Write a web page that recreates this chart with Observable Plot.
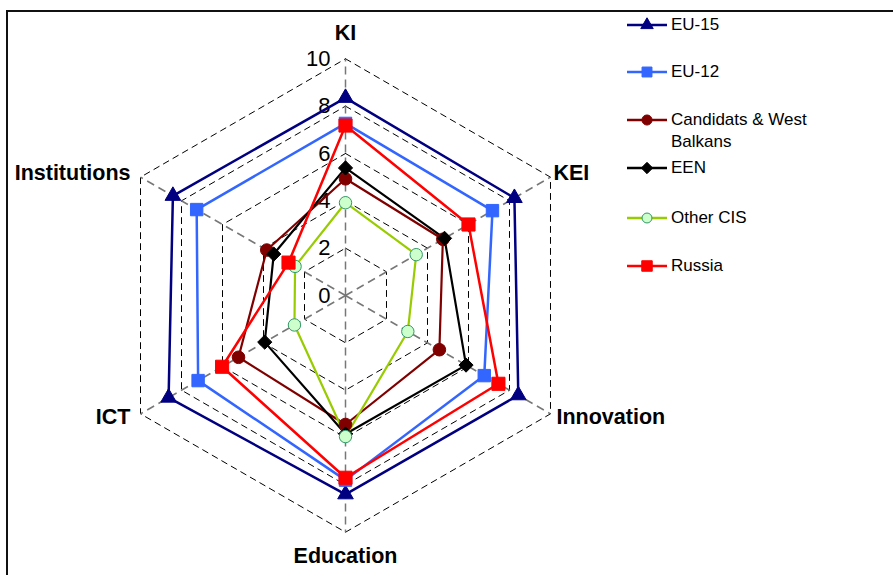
<!DOCTYPE html>
<html>
<head>
<meta charset="utf-8">
<script src="https://cdn.jsdelivr.net/npm/d3@7"></script>
<script src="https://cdn.jsdelivr.net/npm/@observablehq/plot@0.6"></script>
<style>
  html, body { margin: 0; padding: 0; background: #fff; }
  #wrap { position: relative; width: 893px; height: 575px; overflow: hidden; font-family: "Liberation Sans", Arial, sans-serif; }
  #frame { position: absolute; left: 6px; top: 10px; width: 900px; height: 600px; border-top: 2px solid #111; border-left: 2px solid #111; pointer-events: none; }
  #legend { position: absolute; left: 627px; top: 0; font-size: 17px; color: #000; }
  .item { position: absolute; left: 0; white-space: nowrap; line-height: 22px; }
  .item svg { position: absolute; left: 0; top: 0; }
  .item span { position: absolute; left: 44px; top: -11px; }
</style>
</head>
<body>
<div id="wrap"><div id="chart"></div><div id="frame"></div><div id="legend"></div></div>
<script>
const axes = ["KI", "KEI", "Innovation", "Education", "ICT", "Institutions"];
const axisAngles = [90, 30, -30, -90, -150, 150];
const ticks = [0, 2, 4, 6, 8, 10];
const gridLevels = [2, 4, 6, 8, 10];
const seriesNames = ["EU-15", "EU-12", "Candidats & West Balkans", "EEN", "Other CIS", "Russia"];
const eu15 = [8.35, 8.24, 8.43, 8.4, 8.63, 8.42];
const eu12 = [7.27, 7.17, 6.77, 7.8, 7.19, 7.26];
const candidats = [4.93, 4.75, 4.58, 5.45, 5.22, 3.84];
const een = [5.39, 4.83, 5.88, 5.85, 3.94, 3.5];
const otherCIS = [3.92, 3.45, 3.04, 5.96, 2.49, 2.46];
const russia = [7.18, 6.0, 7.46, 7.7, 6.02, 2.78];

const seriesValues = [eu15, eu12, candidats, een, otherCIS, russia];
const styles = [
  {line: "#000080", width: 2.5, symbol: "triangle", r: 5.8, fill: "#000080", stroke: "#000080"},
  {line: "#3366FF", width: 2.5, symbol: "square", r: 7.0, fill: "#3366FF", stroke: "#3366FF"},
  {line: "#800000", width: 2.2, symbol: "circle", r: 6.3, fill: "#800000", stroke: "#800000"},
  {line: "#000000", width: 2.2, symbol: "diamond2", r: 6.4, fill: "#000000", stroke: "#000000"},
  {line: "#99CC00", width: 2.2, symbol: "circle", r: 6.2, fill: "#CCFFCC", stroke: "#339966"},
  {line: "#FF0000", width: 2.5, symbol: "square", r: 7.4, fill: "#FF0000", stroke: "#FF0000"}
];

const rad = d => d * Math.PI / 180;
const pt = (v, i) => ({x: v * Math.cos(rad(axisAngles[i])), y: v * Math.sin(rad(axisAngles[i]))});
const ring = (vals) => { const p = vals.map((v, i) => ({...pt(v, i), axis: axes[i]})); return [...p, p[0]]; };

const U = 23.67, cx = 345, cy = 295, W = 893, H = 575;

const marks = [];
// grid hexagons
for (const L of gridLevels) {
  marks.push(Plot.line(ring(axes.map(() => L)), {x: "x", y: "y", stroke: "#000", strokeWidth: 1, strokeDasharray: "6,5"}));
}
// spokes
const spokes = axes.map((a, i) => { const p = pt(10, i); return {x1: 0, y1: 0, x2: p.x, y2: p.y}; });
marks.push(Plot.link(spokes, {x1: "x1", y1: "y1", x2: "x2", y2: "y2", stroke: "#777", strokeWidth: 1.5, strokeDasharray: "8,5"}));
// tick labels
marks.push(Plot.text(ticks, {x: 0, y: d => d, text: d => String(d), textAnchor: "end", dx: -15, fontSize: 22, fill: "#000"}));
// series
seriesValues.forEach((vals, s) => {
  const st = styles[s];
  marks.push(Plot.line(ring(vals), {x: "x", y: "y", stroke: st.line, strokeWidth: st.width}));
});
seriesValues.forEach((vals, s) => {
  const st = styles[s];
  const data = vals.map((v, i) => pt(v, i));
  marks.push(Plot.dot(data, {x: "x", y: "y", symbol: st.symbol, r: st.r, fill: st.fill, stroke: st.stroke, strokeWidth: 1}));
});
// axis labels
const labelData = axes.map((a, i) => ({...pt(10, i), name: a, ang: axisAngles[i]}));
const lab = {fontSize: 21.5, fontWeight: "bold", fill: "#000", text: "name", x: "x", y: "y"};
marks.push(Plot.text(labelData.filter(d => d.ang === 90), {...lab, textAnchor: "middle", dy: -26}));
marks.push(Plot.text(labelData.filter(d => d.ang === -90), {...lab, textAnchor: "middle", dy: 24}));
marks.push(Plot.text(labelData.filter(d => d.ang === 30), {...lab, textAnchor: "start", dx: 3, dy: -4}));
marks.push(Plot.text(labelData.filter(d => d.ang === -30), {...lab, textAnchor: "start", dx: 6, dy: 3}));
marks.push(Plot.text(labelData.filter(d => d.ang === -150), {...lab, textAnchor: "end", dx: -10, dy: 3}));
marks.push(Plot.text(labelData.filter(d => d.ang === 150), {...lab, textAnchor: "end", dx: -10, dy: -4}));

const chart = Plot.plot({
  width: W, height: H,
  marginTop: 0, marginRight: 0, marginBottom: 0, marginLeft: 0,
  style: {background: "transparent", fontFamily: "'Liberation Sans', Arial, sans-serif", overflow: "visible"},
  x: {domain: [-cx / U, (W - cx) / U], range: [0, W], axis: null},
  y: {domain: [-(H - cy) / U, cy / U], range: [H, 0], axis: null},
  marks
});
document.getElementById("chart").appendChild(chart);

// legend
const legendTops = [25, 72, 120, 168, 218, 266];
const legendLabels = ["EU-15", "EU-12", "Candidats &amp; West<br>Balkans", "EEN", "Other CIS", "Russia"];
const legend = document.getElementById("legend");
seriesNames.forEach((name, s) => {
  const st = styles[s];
  const sym = d3.symbol(d3["symbol" + ({triangle: "Triangle", square: "Square", circle: "Circle", diamond2: "Diamond2"})[st.symbol]], Math.PI * (st.r * 0.8) ** 2)();
  const div = document.createElement("div");
  div.className = "item";
  div.style.top = legendTops[s] + "px";
  div.innerHTML = `<svg width="42" height="20" style="top:-10px" viewBox="0 -10 42 20"><line x1="0" x2="40" y1="0" y2="0" stroke="${st.line}" stroke-width="2.5"/><path transform="translate(20,0)" d="${sym}" fill="${st.fill}" stroke="${st.stroke}" stroke-width="1"/></svg><span>${legendLabels[s]}</span>`;
  legend.appendChild(div);
});
</script>
</body>
</html>
